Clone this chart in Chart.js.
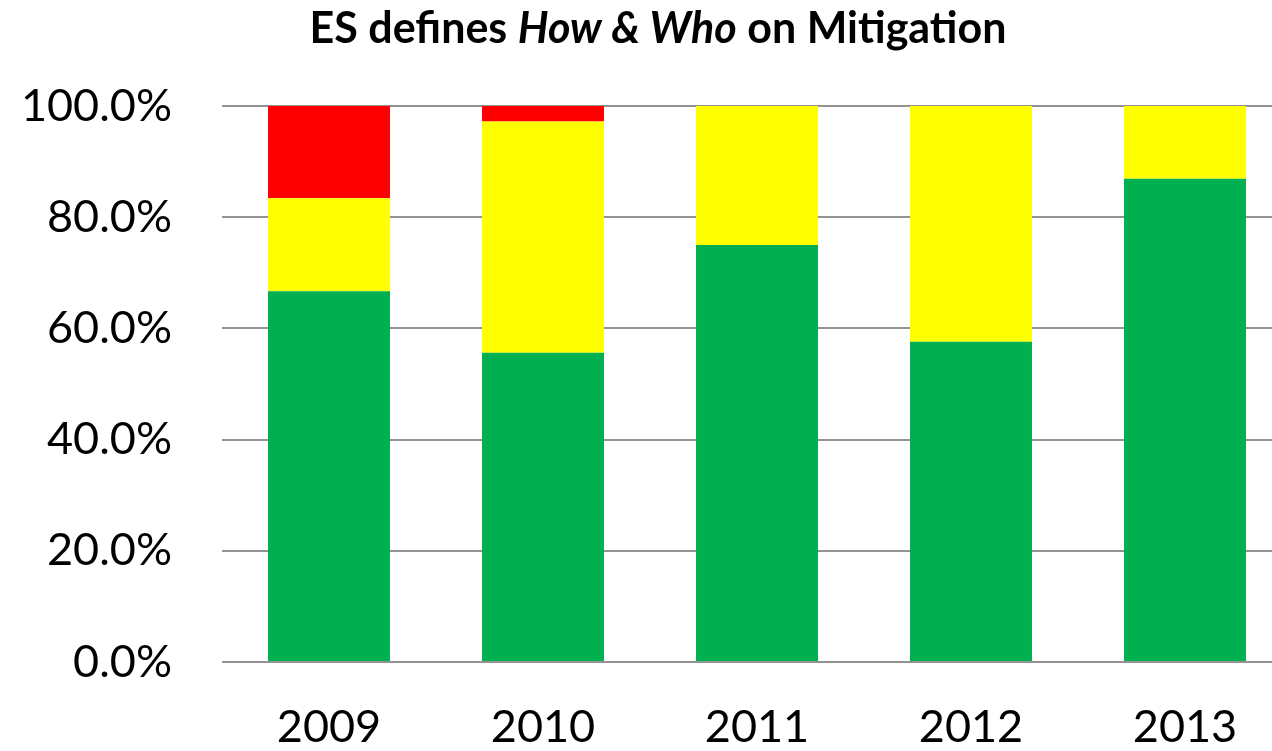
<!DOCTYPE html>
<html>
<head>
<meta charset="utf-8">
<script src="https://cdn.jsdelivr.net/npm/chart.js@4"></script>
<style>
  html, body { margin: 0; padding: 0; background: #fff; overflow: hidden; }
  canvas { display: block; }
</style>
</head>
<body>
<canvas id="chartMitigation" width="1292" height="751"></canvas>
<script>
'use strict'

const years = ['2009', '2010', '2011', '2012', '2013'];
const greenValues = [66.7, 55.6, 75.0, 57.6, 86.9];
const yellowValues = [16.7, 41.6, 25.0, 42.4, 13.1];
const redValues = [16.6, 2.8, 0, 0, 0];

const colors = {
	green: '#00B050',
	yellow: '#FFFF00',
	red: '#FF0000',
	grid: '#939393',
	text: '#000000',
};

const fontFamily = 'Lato, "Open Sans", sans-serif';

// title has an italic part, so draw it ourselves
const mixedTitle = {
	id: 'mixedTitle',
	afterDraw(chart) {
		const ctx = chart.ctx;
		const size = 43;
		const parts = [
			{ text: 'ES defines ', font: `bold ${size}px ${fontFamily}` },
			{ text: 'How & Who', font: `italic bold ${size}px ${fontFamily}` },
			{ text: ' on Mitigation', font: `bold ${size}px ${fontFamily}` },
		];
		ctx.save();
		ctx.fillStyle = colors.text;
		ctx.textBaseline = 'alphabetic';
		ctx.textAlign = 'left';
		let total = 0;
		parts.forEach(p => { ctx.font = p.font; p.w = ctx.measureText(p.text).width; total += p.w; });
		let x = 658 - total / 2;
		parts.forEach(p => {
			ctx.font = p.font;
			ctx.fillText(p.text, x, 43);
			x += p.w;
		});
		ctx.restore();
	},
};

const barOpts = {
	stack: 's',
	barPercentage: 0.57,
	categoryPercentage: 1,
	borderWidth: 0,
};

new Chart(document.getElementById('chartMitigation'), {
	type: 'bar',
	data: {
		labels: years,
		datasets: [
			{ label: 'Green', data: greenValues, backgroundColor: colors.green, ...barOpts },
			{ label: 'Yellow', data: yellowValues, backgroundColor: colors.yellow, ...barOpts },
			{ label: 'Red', data: redValues, backgroundColor: colors.red, ...barOpts },
		],
	},
	options: {
		responsive: false,
		animation: false,
		devicePixelRatio: 1,
		layout: {
			padding: { top: 106, left: 0, right: 0, bottom: 0 },
		},
		plugins: {
			legend: { display: false },
			title: { display: false },
			tooltip: { enabled: false },
		},
		scales: {
			x: {
				stacked: true,
				grid: { display: false, drawTicks: false },
				border: { display: false },
				ticks: {
					color: colors.text,
					font: { family: fontFamily, size: 45 },
					padding: 38,
					maxRotation: 0,
				},
				afterFit(scale) { scale.height = 89; },
			},
			y: {
				stacked: true,
				min: 0,
				max: 100,
				grid: { color: colors.grid, lineWidth: 2, drawTicks: false },
				border: { display: false },
				ticks: {
					stepSize: 20,
					color: colors.text,
					font: { family: fontFamily, size: 45 },
					padding: 50,
					callback: v => v.toFixed(1) + '%',
				},
				afterFit(scale) { scale.width = 222; },
			},
		},
	},
	plugins: [mixedTitle],
});
</script>
</body>
</html>
